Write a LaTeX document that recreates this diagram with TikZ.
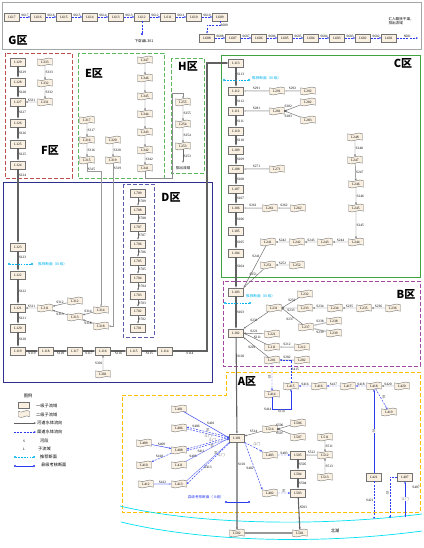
\documentclass[tikz,border=0pt]{standalone}
\usepackage{fontspec}
\setmainfont{Liberation Serif}
\newfontfamily\cjk{Noto Sans CJK SC}
\usetikzlibrary{shapes.symbols,arrows.meta}
\definecolor{nodefill}{HTML}{FAF0E1}
\definecolor{canalblue}{HTML}{2B3BF0}
\definecolor{secblue}{HTML}{00B4F0}
\definecolor{lakecyan}{HTML}{00E0F0}
\definecolor{zoneF}{HTML}{C0504D}
\definecolor{zoneE}{HTML}{5CB85C}
\definecolor{zoneC}{HTML}{3FA33F}
\definecolor{zoneD}{HTML}{5A5AAE}
\definecolor{zoneB}{HTML}{A347A3}
\definecolor{zoneA}{HTML}{FFC000}
\definecolor{framenavy}{HTML}{2E2E8C}
\newcommand{\nf}{\fontsize{3.5}{4}\selectfont}
\newcommand{\nt}{\fontsize{3.6}{4}\selectfont\cjk}
\newcommand{\lt}{\fontsize{4.2}{4.6}\selectfont\cjk}
\begin{document}
\begin{tikzpicture}
[
	x=1pt,y=-1pt,
	>={Stealth[length=2.2pt,width=1.8pt]},
	lvone/.style={rectangle,draw=black!55,fill=nodefill,inner sep=0pt,minimum width=15pt,minimum height=8.5pt,font=\nf},
	lvtwo/.style={tape,draw=black!55,fill=nodefill,inner sep=0pt,minimum width=15pt,minimum height=8pt,tape bend height=1.6pt,font=\nf},
	seg/.style={font=\nf,inner sep=0.5pt},
	note/.style={font=\nt,text=black!55,inner sep=0.3pt},
	zonelab/.style={font=\fontsize{11}{11}\selectfont\cjk\bfseries,inner sep=0pt},
	trunk/.style={draw=black!62,line width=1.1pt,->},
	river/.style={draw=black!58,line width=0.45pt,->},
	branch/.style={draw=black!28,line width=1pt,->},
	canal/.style={draw=canalblue,line width=0.45pt,dash pattern=on 2pt off 1.2pt,->},
	ditch/.style={draw=canalblue,line width=0.45pt,->},
	sect/.style={draw=secblue,line width=0.9pt,dash pattern=on 1.6pt off 1.2pt,{Circle[length=2pt]}-{Circle[length=2pt]}},
	check/.style={draw=canalblue,line width=0.7pt,{Circle[length=2pt]}-{Circle[length=2pt]}},
	sectxt/.style={font=\nt,text=secblue,anchor=west,inner sep=0pt},
	lgtext/.style={font=\lt,anchor=west,inner sep=0pt}
]
	\fill[white] (0,0) rectangle (423,548);
	\useasboundingbox (0,0) rectangle (423,548);

	% zones
	\draw[gray!70] (2,2) rectangle (421,49);
	\draw[zoneF,line width=0.7pt,dash pattern=on 4pt off 2pt] (5,53) rectangle (72,178);
	\draw[zoneE,line width=0.7pt,dash pattern=on 4pt off 2pt] (78,53) rectangle (164,178);
	\draw[zoneE,line width=0.7pt,dash pattern=on 4pt off 2pt] (171,58) rectangle (204,173);
	\draw[zoneC,line width=0.7pt] (221,55) rectangle (420,277);
	\draw[framenavy,line width=0.7pt] (3,182) rectangle (212,382);
	\draw[zoneD,line width=0.7pt,dash pattern=on 4pt off 2pt] (123,184) rectangle (154,337);
	\draw[zoneB,line width=0.7pt,dash pattern=on 4pt off 2pt] (223,281) rectangle (420,366);
	\draw[zoneA,line width=0.7pt,dash pattern=on 4pt off 2pt] (122,395) -- (226,395) -- (226,372) -- (420,372) -- (420,512) -- (122,512) -- cycle;
	\draw[lakecyan,line width=0.7pt] (120,506) .. controls (190,523) and (310,528) .. (422,514);
	\draw[lakecyan,line width=0.7pt] (121,522) .. controls (195,540) and (310,546) .. (422,531);

	\node[zonelab] at (18,40) (gz) {G区};
	\node[zonelab] at (50,150) (fz) {F区};
	\node[zonelab] at (94,73) (ez) {E区};
	\node[zonelab] at (188,66) (hz) {H区};
	\node[zonelab] at (403,63) (cz) {C区};
	\node[zonelab] at (171,197) (dz) {D区};
	\node[zonelab] at (406,294) (bz) {B区};
	\node[zonelab] at (247,381) (az) {A区};
	\node[font=\lt] at (335,531) (lake) {北湖};

	% G
	\node[lvone] at (12,17) (L617) {L617};
	\node[lvone] at (38,17) (L616) {L616};
	\node[lvone] at (64,17) (L615) {L615};
	\node[lvone] at (90,17) (L614) {L614};
	\node[lvone] at (116,17) (L613) {L613};
	\node[lvone] at (142,17) (L612) {L612};
	\node[lvone] at (168,17) (L611) {L611};
	\node[lvone] at (194,17) (L610) {L610};
	\node[lvone] at (220,17) (L609) {L609};
	\node[lvone] at (207,38) (L608) {L608};
	\node[lvone] at (233,38) (L607) {L607};
	\node[lvone] at (259,38) (L606) {L606};
	\node[lvone] at (285,38) (L605) {L605};
	\node[lvone] at (311,38) (L604) {L604};
	\node[lvone] at (337,38) (L603) {L603};
	\node[lvone] at (363,38) (L602) {L602};
	\node[lvone] at (389,38) (L601) {L601};
	\coordinate (gout) at (418,38);
	\coordinate (culv) at (142,35);

	\draw[canal] (L617) -- node[seg,above] {S617} (L616);
	\draw[canal] (L616) -- node[seg,above] {S616} (L615);
	\draw[canal] (L615) -- node[seg,above] {S615} (L614);
	\draw[canal] (L614) -- node[seg,above] {S614} (L613);
	\draw[canal] (L613) -- node[seg,above] {S613} (L612);
	\draw[canal] (L612) -- node[seg,above] {S612} (L611);
	\draw[canal] (L611) -- node[seg,above] {S611} (L610);
	\draw[canal] (L610) -- node[seg,above] {S610} (L609);
	\draw[canal] (L609.south) -- ++(0,4) node[seg,right] {S609} -| (L608.north);
	\draw[canal] (L608) -- node[seg,above] {S608} (L607);
	\draw[canal] (L607) -- node[seg,above] {S607} (L606);
	\draw[canal] (L606) -- node[seg,above] {S606} (L605);
	\draw[canal] (L605) -- node[seg,above] {S605} (L604);
	\draw[canal] (L604) -- node[seg,above] {S604} (L603);
	\draw[canal] (L603) -- node[seg,above] {S603} (L602);
	\draw[canal] (L602) -- node[seg,above] {S602} (L601);
	\draw[canal] (L601) -- node[seg,above] {S601} (gout);
	\draw[canal,-{Circle[length=2pt]}] (L612) -- (culv);
	\node[font=\nt] at (144,41) (culvt) {下穿涵L301};
	\node[font=\nt,align=left,anchor=west] at (385,21) (goutt) {汇入赣抚干渠，\\排出流域};

	% F
	\node[lvone] at (18,62) (L129) {L129};
	\node[lvone] at (18,82) (L128) {L128};
	\node[lvone] at (18,102) (L127) {L127};
	\node[lvone] at (18,123) (L126) {L126};
	\node[lvone] at (18,144) (L125) {L125};
	\node[lvone] at (18,165) (L124) {L124};
	\node[lvtwo] at (45,62) (L333) {L333};
	\node[lvtwo] at (45,83) (L332) {L332};
	\node[lvtwo] at (45,102) (L331) {L331};
	\draw[trunk] (L129) -- node[seg,right] {S129} (L128);
	\draw[trunk] (L128) -- node[seg,right] {S128} (L127);
	\draw[trunk] (L127) -- node[seg,right] {S127} (L126);
	\draw[trunk] (L126) -- node[seg,right] {S126} (L125);
	\draw[trunk] (L125) -- node[seg,right] {S125} (L124);
	\draw[river] (L333) -- node[seg,right] {S333} (L332);
	\draw[river] (L332) -- node[seg,right] {S332} (L331);
	\draw[river] (L331) -- node[seg,above] {S331} (L127);

	% E
	\node[lvtwo] at (145,60) (L347) {L347};
	\node[lvtwo] at (145,78) (L346) {L346};
	\node[lvtwo] at (145,96) (L345) {L345};
	\node[lvtwo] at (145,114) (L344) {L344};
	\node[lvtwo] at (145,132) (L343) {L343};
	\node[lvtwo] at (145,150) (L342) {L342};
	\node[lvtwo] at (145,168) (L341) {L341};
	\node[lvtwo] at (87,120) (L317) {L317};
	\node[lvtwo] at (87,140) (L316) {L316};
	\node[lvtwo] at (87,160) (L315) {L315};
	\node[lvtwo] at (113,140) (L320) {L320};
	\node[lvtwo] at (113,160) (L319) {L319};
	\draw[river] (L347) -- (L346);
	\draw[river] (L346) -- (L345);
	\draw[river] (L345) -- (L344);
	\draw[river] (L344) -- (L343);
	\draw[river] (L343) -- (L342);
	\draw[river] (L342) -- node[seg,right] {S342} (L341);
	\draw[river] (L317) -- node[seg,right] {S317} (L316);
	\draw[river] (L316) -- node[seg,right] {S316} (L315);
	\draw[river] (L320) -- node[seg,right] {S320} (L319);

	% H
	\node[lvtwo] at (183,102) (L255) {L255};
	\node[lvtwo] at (183,124) (L254) {L254};
	\node[lvtwo] at (183,146) (L253) {L253};
	\node[font=\nt] at (183,168) (hout) {排出流域};
	\coordinate (h1) at (172,178);
	\coordinate (h2) at (172,93);
	\draw[river] (L255) -- node[seg,right] {S255} (L254);
	\draw[river] (L254) -- node[seg,right] {S254} (L253);
	\draw[river] (L253) -- node[seg,right] {S253} (hout);
	\draw[branch,draw=black!45,line width=0.7pt] (L341.south) |- (h1) -- (h2) -| (L255.north);

	% left frame
	\node[lvone] at (18,247) (L123) {L123};
	\node[lvone] at (18,275) (L122) {L122};
	\node[lvone] at (18,308) (L121) {L121};
	\node[lvone] at (18,328) (L120) {L120};
	\node[lvone] at (18,351) (L119) {L119};
	\node[lvone] at (46,351) (L118) {L118};
	\node[lvone] at (75,351) (L117) {L117};
	\node[lvone] at (103,351) (L116) {L116};
	\node[lvone] at (134,351) (L115) {L115};
	\node[lvone] at (165,351) (L114) {L114};
	\node[lvtwo] at (103,374) (L301) {L301};
	\node[lvtwo] at (45,308) (L311) {L311};
	\node[lvtwo] at (75,301) (L312) {L312};
	\node[lvtwo] at (75,317) (L313) {L313};
	\node[lvtwo] at (101,310) (L314) {L314};
	\node[lvtwo] at (101,326) (L318) {L318};
	\coordinate (tb) at (207,351);
	\coordinate (tt) at (207,63);

	\draw[trunk] (L124) -- node[seg,right,pos=0.08] {S124} (L123);
	\draw[trunk] (L123) -- node[seg,right,pos=0.3] {S123} (L122);
	\draw[trunk] (L122) -- node[seg,right] {S122} (L121);
	\draw[trunk] (L121) -- node[seg,right] {S121} (L120);
	\draw[trunk] (L120) -- node[seg,right] {S120} (L119);
	\draw[trunk] (L119) -- node[seg,below] {S119} (L118);
	\draw[trunk] (L118) -- node[seg,below] {S118} (L117);
	\draw[trunk] (L117) -- node[seg,below] {S117} (L116);
	\draw[trunk] (L116) -- node[seg,below] {S116} (L115);
	\draw[trunk] (L115) -- node[seg,below] {S115} (L114);
	\draw[river] (L301) -- node[seg,left] {S301} (L116);
	\draw[river] (L312) -- node[seg,above] {S312} (L311);
	\draw[river] (L313) -- node[seg,below] {S313} (L311);
	\draw[river] (L311) -- node[seg,above] {S311} (L121);
	\draw[river] (L314) -- node[seg,above] {S314} (L313);
	\draw[river] (L318) -- node[seg,below] {S318} (L313);
	\draw[branch,draw=black!40,line width=0.7pt] (L315.south) |- ++(14,8) node[seg,above right,pos=0.5] {S315} -- (L314.north);
	\draw[branch,draw=black!40,line width=0.7pt] (L319.south) -- node[seg,right,pos=0.03] {S319} (L319 |- L318) -- (L318.east);
	\draw[sect] (8,264) -- (33,264);
	\node[sectxt] at (38,264) (sec3) {推荐断面（Ⅲ级）};

	% D
	\node[lvone] at (138,193) (L709) {L709};
	\node[lvone] at (138,210) (L708) {L708};
	\node[lvone] at (138,227) (L707) {L707};
	\node[lvone] at (138,244) (L706) {L706};
	\node[lvone] at (138,261) (L705) {L705};
	\node[lvone] at (138,278) (L704) {L704};
	\node[lvone] at (138,295) (L703) {L703};
	\node[lvone] at (138,311) (L702) {L702};
	\node[lvone] at (138,328) (L701) {L701};
	\draw[river] (L709) -- node[seg,right] {S709} (L708);
	\draw[river] (L708) -- node[seg,right] {S708} (L707);
	\draw[river] (L707) -- node[seg,right] {S707} (L706);
	\draw[river] (L706) -- node[seg,right] {S706} (L705);
	\draw[river] (L705) -- node[seg,right] {S705} (L704);
	\draw[river] (L704) -- node[seg,right] {S704} (L703);
	\draw[river] (L703) -- node[seg,right] {S703} (L702);
	\draw[river] (L702) -- node[seg,right] {S702} (L701);

	% C
	\node[lvone] at (236,63) (L113) {L113};
	\node[lvone] at (236,91) (L112) {L112};
	\node[lvone] at (236,111) (L111) {L111};
	\node[lvone] at (236,131) (L110) {L110};
	\node[lvone] at (236,150) (L109) {L109};
	\node[lvone] at (236,169) (L108) {L108};
	\node[lvone] at (236,189) (L107) {L107};
	\node[lvone] at (236,208) (L106) {L106};
	\node[lvone] at (236,231) (L105) {L105};
	\node[lvone] at (236,253) (L104) {L104};
	\node[lvtwo] at (277,91) (L291) {L291};
	\node[lvtwo] at (308,91) (L292) {L292};
	\node[lvtwo] at (277,111) (L281) {L281};
	\node[lvtwo] at (308,102) (L282) {L282};
	\node[lvtwo] at (308,120) (L283) {L283};
	\node[lvtwo] at (277,169) (L271) {L271};
	\node[lvtwo] at (270,208) (L261) {L261};
	\node[lvtwo] at (298,208) (L262) {L262};
	\node[lvtwo] at (355,137) (L248) {L248};
	\node[lvtwo] at (355,160) (L247) {L247};
	\node[lvtwo] at (356,184) (L246) {L246};
	\node[lvtwo] at (356,208) (L245) {L245};
	\node[lvtwo] at (356,242) (L244) {L244};
	\node[lvtwo] at (325,242) (L243) {L243};
	\node[lvtwo] at (297,242) (L242) {L242};
	\node[lvtwo] at (268,242) (L241) {L241};
	\node[lvtwo] at (297,265) (L252) {L252};
	\node[lvtwo] at (268,265) (L251) {L251};

	\draw[trunk] (L114) -- node[seg,below] {S114} (tb) -- (tt) -- (L113);
	\draw[trunk] (L113) -- node[seg,right,pos=0.35] {S113} (L112);
	\draw[trunk] (L112) -- node[seg,right] {S112} (L111);
	\draw[trunk] (L111) -- node[seg,right] {S111} (L110);
	\draw[trunk] (L110) -- node[seg,right] {S110} (L109);
	\draw[trunk] (L109) -- node[seg,right] {S109} (L108);
	\draw[trunk] (L108) -- node[seg,right] {S108} (L107);
	\draw[trunk] (L107) -- node[seg,right] {S107} (L106);
	\draw[trunk] (L106) -- node[seg,right] {S106} (L105);
	\draw[trunk] (L105) -- node[seg,right] {S105} (L104);
	\draw[branch] (L292) -- node[seg,above] {S292} (L291);
	\draw[branch] (L291) -- node[seg,above] {S291} (L112);
	\draw[river] (L282) -- node[seg,above left] {S282} (L281.east);
	\draw[river] (L283) -- node[seg,below left] {S283} (L281.east);
	\fill[black!70] (L281.east) circle (0.8pt);
	\draw[branch] (L281) -- node[seg,above] {S281} (L111);
	\draw[branch] (L271) -- node[seg,above] {S271} (L108);
	\draw[branch] (L262) -- node[seg,above] {S262} (L261);
	\draw[branch] (L261) -- node[seg,above] {S261} (L106);
	\draw[river] (L248) -- node[seg,right] {S248} (L247);
	\draw[river] (L247) -- node[seg,right] {S247} (L246);
	\draw[river] (L246) -- node[seg,right] {S246} (L245);
	\draw[river] (L245) -- node[seg,right] {S245} (L244);
	\draw[river] (L244) -- node[seg,above] {S244} (L243);
	\draw[river] (L243) -- node[seg,above] {S243} (L242);
	\draw[river] (L242) -- node[seg,above] {S242} (L241);
	\draw[river] (L252) -- node[seg,above] {S252} (L251);
	\draw[sect] (223,80) -- (250,80);
	\node[sectxt] at (252,78) (sec1) {推荐断面（Ⅲ级）};

	% B
	\node[lvone] at (236,292) (L103) {L103};
	\node[lvone] at (236,333) (L102) {L102};
	\node[lvtwo] at (274,308) (L231) {L231};
	\node[lvtwo] at (305,294) (L232) {L232};
	\node[lvtwo] at (305,308) (L233) {L233};
	\node[lvtwo] at (335,308) (L234) {L234};
	\node[lvtwo] at (364,308) (L235) {L235};
	\node[lvtwo] at (393,308) (L236) {L236};
	\node[lvtwo] at (306,327) (L237) {L237};
	\node[lvtwo] at (334,321) (L238) {L238};
	\node[lvtwo] at (334,333) (L239) {L239};
	\node[lvtwo] at (272,334) (L221) {L221};
	\node[lvtwo] at (272,347) (L211) {L211};
	\node[lvtwo] at (302,347) (L212) {L212};
	\node[lvtwo] at (272,360) (L201) {L201};
	\node[lvtwo] at (302,360) (L202) {L202};

	\draw[trunk] (L104) -- node[seg,right,pos=0.3] {S104} (L103);
	\draw[trunk] (L103) -- node[seg,right] {S103} (L102);
	\draw[river] (L241) -- node[seg,left,pos=0.25] {S241} (L103.north east);
	\draw[river] (L251) -- node[seg,left,pos=0.3] {S251} (L103.north east);
	\draw[river] (L232) -- node[seg,above,pos=0.4] {S232} (L231.east);
	\draw[river] (L233) -- node[seg,below,pos=0.4] {S233} (L231.east);
	\draw[river] (L237) -- node[seg,below left,pos=0.4] {S237} (L231.east);
	\draw[river] (L234) -- node[seg,above] {S234} (L233);
	\draw[river] (L235) -- node[seg,above] {S235} (L234);
	\draw[river] (L236) -- node[seg,above] {S236} (L235);
	\draw[branch] (L238) -- node[seg,above] {S238} (L237);
	\draw[branch] (L239) -- node[seg,below] {S239} (L237);
	\draw[river] (L231) -- node[seg,below left,pos=0.4] {S231} (L102.north east);
	\draw[river] (L221) -- node[seg,above] {S221} (L102);
	\draw[river] (L211) -- node[seg,above,pos=0.4] {S211} (L102.east);
	\draw[branch] (L212) -- node[seg,above] {S212} (L211);
	\draw[river] (L201) -- node[seg,left,pos=0.5] {S201} (L102.south east);
	\draw[branch] (L202) -- node[seg,above] {S202} (L201);
	\draw[sect] (224,303) -- (251,303);
	\node[sectxt] at (246,296) (sec2) {推荐断面（Ⅲ级）};

	% A
	\node[lvone] at (237,438) (L101) {L101};
	\node[lvtwo] at (237,533) (L502) {L502};
	\node[lvtwo] at (300,533) (L501) {L501};
	\node[lvtwo] at (179,409) (L401) {L401};
	\node[lvtwo] at (179,428) (L406) {L406};
	\node[lvtwo] at (144,443) (L409) {L409};
	\node[lvtwo] at (179,450) (L408) {L408};
	\node[lvtwo] at (144,465) (L410) {L410};
	\node[lvtwo] at (179,465) (L411) {L411};
	\node[lvtwo] at (146,484) (L412) {L412};
	\node[lvtwo] at (179,484) (L413) {L413};
	\node[lvtwo] at (270,429) (L514) {L514};
	\node[lvtwo] at (298,423) (L506) {L506};
	\node[lvtwo] at (298,437) (L507) {L507};
	\node[lvtwo] at (270,455) (L403) {L403};
	\node[lvone] at (298,455) (L505) {L505};
	\node[lvone] at (298,474) (L504) {L504};
	\node[lvone] at (298,493) (L503) {L503};
	\node[lvtwo] at (270,493) (L402) {L402};
	\node[lvtwo] at (325,437) (L511) {L511};
	\node[lvtwo] at (325,455) (L512) {L512};
	\node[lvtwo] at (325,477) (L513) {L513};
	\node[lvtwo] at (272,394) (L414) {L414};
	\node[lvtwo] at (291,386) (L415) {L415};
	\node[lvtwo] at (319,386) (L416) {L416};
	\node[lvtwo] at (348,386) (L417) {L417};
	\node[lvtwo] at (374,386) (L418) {L418};
	\node[lvtwo] at (402,386) (L420) {L420};
	\node[lvtwo] at (389,412) (L419) {L419};
	\node[lvone] at (374,477) (L421) {L421};
	\node[lvone] at (405,477) (L407) {L407};
	\coordinate (lk421) at (374,519);
	\coordinate (lk407) at (405,517);
	\coordinate (lkpump) at (390,518);

	\draw[trunk] (L102) -- node[seg,right,pos=0.2] {S102} (L101);
	\draw[trunk] (L101) -- node[seg,right,pos=0.25] {S101} (L502);
	\draw[trunk,-] (L502) -- (L501);
	\draw[ditch] (L401) -- node[seg,above right] {S401} (L101.west);
	\draw[canal] ([yshift=0.9pt]L101.west) -- node[note,above,pos=0.5] {泵} ([yshift=0.9pt]L406.east);
	\draw[canal] ([yshift=-0.9pt]L406.east) -- node[note,below,pos=0.5] {斗门} ([yshift=-0.9pt]L101.west);
	\node[seg] at (196,426) (s406) {S406};
	\draw[ditch] (L409) -- node[seg,above] {S409} (L408);
	\draw[canal] ([yshift=0.9pt]L101.west) -- node[note,above,pos=0.4] {斗门} ([yshift=0.9pt]L408.east);
	\draw[canal] ([yshift=-0.9pt]L408.east) -- node[note,below,pos=0.6] {泵} ([yshift=-0.9pt]L101.west);
	\node[seg] at (193,456) (s408) {S408};
	\draw[canal] (L408) -- node[seg,above,pos=0.6] {S410} (L410);
	\draw[ditch,draw=canalblue!70] (L411) -- node[seg,above,pos=0.35] {S411} (L101.west);
	\node[note] at (216,453) (n411) {泵};
	\draw[canal] ([xshift=0.8pt]L101.south west) -- node[note,right,pos=0.3] {斗门} (L413.east);
	\draw[ditch,draw=canalblue!70] (L413.north east) -- node[seg,below right,pos=0.4] {S413} (L101.south west);
	\draw[ditch,draw=canalblue!55,line width=0.9pt] (L412) -- node[seg,above] {S412} (L413);
	\draw[check] (225,502) -- (250,502);
	\node[font=\nt,text=canalblue,anchor=east,inner sep=0pt] at (224,497) (chk) {县级考核断面（Ⅱ级）};

	\draw[river] (L514) -- node[seg,above] {S514} (L101);
	\draw[river] (L506) -- node[seg,above left] {S506} (L514.east);
	\draw[river] (L507) -- node[seg,below left] {S507} (L514.east);
	\fill[black!70] (L514.east) circle (0.8pt);
	\draw[canal] (L101.south east) -- node[note,above right,pos=0.45] {斗门} (L403.north west);
	\draw[canal] (L403) -- node[seg,above] {S403} (L505);
	\draw[canal] (L101.south east) -- node[seg,left,pos=0.55] {S402} (L402.north west);
	\draw[canal] (L402) -- node[note,above] {泵} (L503);
	\draw[trunk] (L505) -- node[seg,right] {S505} (L504);
	\draw[trunk] (L504) -- node[seg,right] {S504} (L503);
	\draw[trunk] (L503) -- node[seg,right,pos=0.3] {S503} (L501);
	\draw[branch] (L512) -- node[seg,above] {S512} (L505);
	\draw[river] (L511) -- node[seg,right] {S511} (L512);
	\draw[river] (L513) -- node[seg,right] {S513} (L512);

	\draw[river] (L420) -- node[seg,above] {S420} (L418);
	\draw[canal] (L418) -- node[seg,above] {S418} (L417);
	\draw[canal] (L417) -- node[seg,above] {S417} (L416);
	\draw[canal] (L416) -- node[seg,above] {S416} (L415);
	\draw[canal] (L201) -- node[note,left] {泵} (L414);
	\draw[ditch] (L414.south) -- ++(0,12) node[seg,left] {S414} -| node[note,below,pos=0.25] {暗涵} (L415.south);
	\draw[canal] (L415.north) |- node[seg,right,pos=0.3] {S415} (L201.east);
	\draw[canal] (L418) -- node[note,above right] {泵} (L419);
	\draw[ditch] (L421) -- node[note,fill=white] {泵} (L418);
	\draw[canal] (L421) -- node[seg,left] {S421} (lk421);
	\draw[ditch] (lk407) -- node[note,fill=white] {斗门} (L407);
	\draw[canal] (L407.west) -| node[note,left,pos=0.7] {泵} (lkpump);
	\node[seg] at (416,487) (s407) {S407};

	% legend
	\node[font=\lt] at (28,396) (lgt) {图例};
	\node[lvone,minimum width=11pt,minimum height=6.5pt] at (24,405) (lg1) {};
	\node[lgtext] at (36,406) (lg1t) {一级子流域};
	\node[lvtwo,minimum width=11pt,minimum height=7pt] at (24,414) (lg2) {};
	\node[lgtext] at (36,415) (lg2t) {二级子流域};
	\draw[trunk,line width=0.9pt] (14,423) -- (36,423);
	\node[lgtext] at (37,423) (lg3t) {河道水体流向};
	\draw[canal] (14,432) -- (36,432);
	\node[lgtext] at (37,432) (lg4t) {渠道水体流向};
	\node[font=\nf] at (24,441) (lg5) {S};
	\node[lgtext] at (40,441) (lg5t) {河段};
	\node[font=\nf] at (24,449) (lg6) {L};
	\node[lgtext] at (38,449) (lg6t) {子流域};
	\draw[sect] (14,457) -- (35,457);
	\node[lgtext] at (40,457) (lg7t) {推荐断面};
	\draw[check] (14,466) -- (35,466);
	\node[lgtext] at (41,465) (lg8t) {县级考核断面};

\end{tikzpicture}
\end{document}
